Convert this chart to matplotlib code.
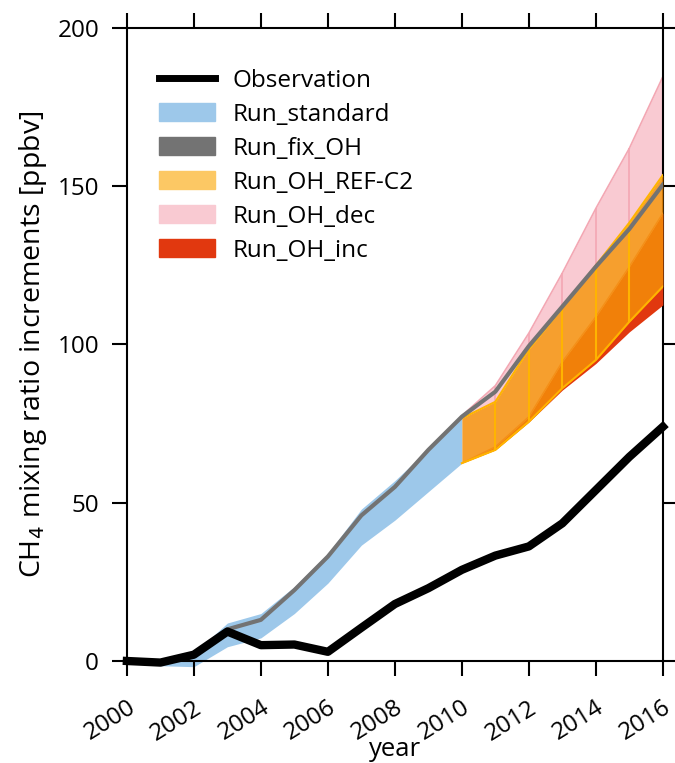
import matplotlib
matplotlib.use("Agg")
import matplotlib.pyplot as plt
from matplotlib import font_manager
from matplotlib.lines import Line2D
from matplotlib.patches import Patch
import numpy as np

# pick a narrow-ish sans font if one is there
names = {f.name for f in font_manager.fontManager.ttflist}
for fam in ["Liberation Sans Narrow", "Open Sans", "Noto Sans", "DejaVu Sans"]:
    if fam in names:
        plt.rcParams['font.family'] = [fam, 'DejaVu Sans']
        break

# data
years = np.arange(2000, 2017)
obs = [0, -0.5, 2, 9.3, 5, 5.2, 2.9, 10.5, 18, 23, 28.8, 33.3, 36.2, 43.5, 54, 64.5, 74]
fix_oh = [0, -0.5, 1.5, 10, 13, 22.4, 33, 46, 55, 66.7, 77.2, 85.1, 99.5, 112, 124.6, 136.5, 150.5]

years_std = np.arange(2000, 2011)
std_lo = [0, -1.5, -1.8, 4.5, 7.3, 15, 24.6, 36.6, 44.5, 53.5, 62.5]
std_hi = [0.5, 0, 2.5, 12, 15, 23.5, 34, 48, 57, 67, 77.7]

years_oh = np.arange(2010, 2017)
ref_lo = [62.5, 66.7, 75.6, 86.2, 95.1, 107.2, 118.3]
ref_hi = [76.7, 81.9, 98.5, 111.5, 125, 138.5, 153.5]
dec_hi = [77.5, 87, 103.6, 122.6, 143, 162, 184.6]
inc_lo = [62.5, 66.7, 75.5, 85.6, 94, 104, 112.5]
inc_hi = [62.5, 67.7, 77.2, 94.6, 108.8, 124.6, 141.5]

c_obs = 'black'
c_std = '#9dc8ea'
c_fix = '#737373'
c_ref = '#f58e09'
c_ref_leg = '#fcc864'
c_dec = '#f9cad2'
c_inc = '#e1380f'

fig = plt.figure(figsize=(6.75, 7.63), dpi=100)
ax = fig.add_axes([0.188, 0.1337, 0.794, 0.8296])

ax.fill_between(years_std, std_lo, std_hi, color=c_std, lw=0, zorder=1, clip_on=False)
ax.fill_between(years_oh, ref_hi, dec_hi, color=c_dec, lw=0, zorder=2)
ax.plot(years_oh, dec_hi, color='#f3a7b3', lw=1.2, zorder=2)
ax.vlines(years_oh[1:-1], np.array(ref_hi[1:-1]), np.array(dec_hi[1:-1]),
          color='#f3a7b3', lw=1.2, zorder=2)
ax.fill_between(years_oh, inc_lo, inc_hi, color=c_inc, lw=0, zorder=3)
ax.plot(years_oh, inc_hi, color='#f39a6a', lw=1, zorder=3)
ax.fill_between(years_oh, ref_lo, ref_hi, color=c_ref, alpha=0.85, lw=0, zorder=4)
ax.plot(years_oh, ref_lo, color='#ffb400', lw=1.5, zorder=4)
ax.plot(years_oh, ref_hi, color='#ffb400', lw=1.5, zorder=4)
ax.vlines(years_oh[1:-1], np.array(ref_lo[1:-1]), np.array(ref_hi[1:-1]),
          color='#ffb400', lw=1.5, zorder=4)
ax.plot(years, fix_oh, color=c_fix, lw=3, zorder=6)
ax.plot(years, obs, color=c_obs, lw=6, zorder=7, clip_on=False)

ax.set_xlim(2000, 2016)
ax.set_ylim(0, 200)
ax.set_xticks(range(2000, 2017, 2))
ax.set_yticks(range(0, 201, 50))
ax.tick_params(direction='out', length=11, width=1.5, labelsize=17.5, pad=9,
               top=True, right=True)
ax.tick_params(axis='x', labelsize=17.5, pad=14)
for s in ax.spines.values():
    s.set_linewidth(1.5)
plt.setp(ax.get_xticklabels(), rotation=32, ha='right', rotation_mode='anchor')
ax.set_xlabel("year", fontsize=18.5, labelpad=-6)
ax.set_ylabel("CH$_4$ mixing ratio increments [ppbv]", fontsize=20.5, labelpad=6)

handles = [Line2D([], [], color=c_obs, lw=5),
           Patch(color=c_std), Patch(color=c_fix), Patch(color=c_ref_leg),
           Patch(color=c_dec), Patch(color=c_inc)]
labels = ["Observation", "Run_standard", "Run_fix_OH", "Run_OH_REF-C2",
          "Run_OH_dec", "Run_OH_inc"]
ax.legend(handles, labels, loc='upper left', bbox_to_anchor=(0.02, 0.97),
          frameon=False, fontsize=17.5, handlelength=2.3, handleheight=0.75,
          labelspacing=0.41, handletextpad=0.7)

fig.savefig("out.png", dpi=100)
